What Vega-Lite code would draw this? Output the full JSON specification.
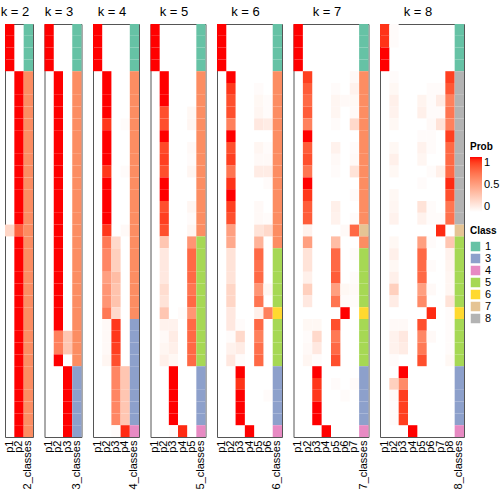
{
"$schema": "https://vega.github.io/schema/vega-lite/v6.json",
"padding": {"left": 0, "top": 5, "right": 0, "bottom": 0},
"spacing": 11.5,
"bounds": "flush",
"datasets": {
"prob": [
{"k":2,"r":1,"c":"p1","v":1},{"k":2,"r":2,"c":"p1","v":1},{"k":2,"r":3,"c":"p1","v":1},{"k":2,"r":4,"c":"p1","v":1},
{"k":2,"r":5,"c":"p2","v":1},{"k":2,"r":6,"c":"p2","v":1},{"k":2,"r":7,"c":"p2","v":1},{"k":2,"r":8,"c":"p2","v":1},{"k":2,"r":9,"c":"p2","v":1},{"k":2,"r":10,"c":"p2","v":1},{"k":2,"r":11,"c":"p2","v":1},{"k":2,"r":12,"c":"p2","v":1},{"k":2,"r":13,"c":"p2","v":1},{"k":2,"r":14,"c":"p2","v":1},{"k":2,"r":15,"c":"p2","v":1},{"k":2,"r":16,"c":"p2","v":1},{"k":2,"r":17,"c":"p2","v":1},
{"k":2,"r":18,"c":"p1","v":0.22},{"k":2,"r":18,"c":"p2","v":0.78},
{"k":2,"r":19,"c":"p2","v":1},{"k":2,"r":20,"c":"p2","v":1},{"k":2,"r":21,"c":"p2","v":1},{"k":2,"r":22,"c":"p2","v":1},{"k":2,"r":23,"c":"p2","v":1},{"k":2,"r":24,"c":"p2","v":1},{"k":2,"r":25,"c":"p2","v":1},{"k":2,"r":26,"c":"p2","v":1},{"k":2,"r":27,"c":"p2","v":1},{"k":2,"r":28,"c":"p2","v":1},{"k":2,"r":29,"c":"p2","v":1},{"k":2,"r":30,"c":"p2","v":1},{"k":2,"r":31,"c":"p2","v":1},{"k":2,"r":32,"c":"p2","v":1},{"k":2,"r":33,"c":"p2","v":1},{"k":2,"r":34,"c":"p2","v":1},{"k":2,"r":35,"c":"p2","v":1},

{"k":3,"r":1,"c":"p1","v":1},{"k":3,"r":2,"c":"p1","v":1},{"k":3,"r":3,"c":"p1","v":1},{"k":3,"r":4,"c":"p1","v":1},
{"k":3,"r":5,"c":"p2","v":1},{"k":3,"r":6,"c":"p2","v":1},{"k":3,"r":7,"c":"p2","v":1},{"k":3,"r":8,"c":"p2","v":1},{"k":3,"r":9,"c":"p2","v":1},{"k":3,"r":10,"c":"p2","v":1},{"k":3,"r":11,"c":"p2","v":1},{"k":3,"r":12,"c":"p2","v":1},{"k":3,"r":13,"c":"p2","v":1},{"k":3,"r":14,"c":"p2","v":1},{"k":3,"r":15,"c":"p2","v":1},{"k":3,"r":16,"c":"p2","v":1},{"k":3,"r":17,"c":"p2","v":1},{"k":3,"r":18,"c":"p2","v":1},{"k":3,"r":19,"c":"p2","v":1},{"k":3,"r":20,"c":"p2","v":1},{"k":3,"r":21,"c":"p2","v":1},{"k":3,"r":22,"c":"p2","v":1},{"k":3,"r":23,"c":"p2","v":1},{"k":3,"r":24,"c":"p2","v":1},{"k":3,"r":25,"c":"p2","v":1},{"k":3,"r":26,"c":"p2","v":1},
{"k":3,"r":27,"c":"p2","v":0.65},{"k":3,"r":27,"c":"p3","v":0.3},{"k":3,"r":28,"c":"p2","v":0.65},{"k":3,"r":28,"c":"p3","v":0.3},
{"k":3,"r":29,"c":"p2","v":1},
{"k":3,"r":30,"c":"p3","v":1},{"k":3,"r":31,"c":"p3","v":1},{"k":3,"r":32,"c":"p3","v":1},{"k":3,"r":33,"c":"p3","v":1},{"k":3,"r":34,"c":"p3","v":1},{"k":3,"r":35,"c":"p3","v":1},

{"k":4,"r":1,"c":"p1","v":1},{"k":4,"r":2,"c":"p1","v":1},{"k":4,"r":3,"c":"p1","v":1},{"k":4,"r":4,"c":"p1","v":1},
{"k":4,"r":5,"c":"p2","v":1},{"k":4,"r":6,"c":"p2","v":1},{"k":4,"r":7,"c":"p2","v":1},{"k":4,"r":8,"c":"p2","v":1},
{"k":4,"r":9,"c":"p2","v":0.92},{"k":4,"r":9,"c":"p4","v":0.02},
{"k":4,"r":10,"c":"p2","v":1},{"k":4,"r":11,"c":"p2","v":1},{"k":4,"r":12,"c":"p2","v":1},
{"k":4,"r":13,"c":"p2","v":0.92},{"k":4,"r":13,"c":"p4","v":0.02},
{"k":4,"r":14,"c":"p2","v":1},{"k":4,"r":15,"c":"p2","v":1},{"k":4,"r":16,"c":"p2","v":1},{"k":4,"r":17,"c":"p2","v":1},
{"k":4,"r":18,"c":"p2","v":0.92},{"k":4,"r":18,"c":"p4","v":0.03},
{"k":4,"r":19,"c":"p2","v":0.68},{"k":4,"r":19,"c":"p3","v":0.2},
{"k":4,"r":20,"c":"p2","v":0.62},{"k":4,"r":20,"c":"p3","v":0.25},
{"k":4,"r":21,"c":"p2","v":0.62},{"k":4,"r":21,"c":"p3","v":0.25},
{"k":4,"r":22,"c":"p2","v":0.5},{"k":4,"r":22,"c":"p3","v":0.35},
{"k":4,"r":23,"c":"p2","v":0.55},{"k":4,"r":23,"c":"p3","v":0.32},
{"k":4,"r":24,"c":"p2","v":0.55},{"k":4,"r":24,"c":"p3","v":0.32},
{"k":4,"r":25,"c":"p2","v":0.68},{"k":4,"r":25,"c":"p3","v":0.2},
{"k":4,"r":26,"c":"p2","v":0.03},{"k":4,"r":26,"c":"p3","v":0.92},
{"k":4,"r":27,"c":"p2","v":0.03},{"k":4,"r":27,"c":"p3","v":0.92},
{"k":4,"r":28,"c":"p2","v":0.03},{"k":4,"r":28,"c":"p3","v":0.9},
{"k":4,"r":29,"c":"p2","v":0.05},{"k":4,"r":29,"c":"p3","v":0.85},
{"k":4,"r":30,"c":"p3","v":0.62},{"k":4,"r":30,"c":"p4","v":0.3},
{"k":4,"r":31,"c":"p3","v":0.62},{"k":4,"r":31,"c":"p4","v":0.3},
{"k":4,"r":32,"c":"p3","v":0.62},{"k":4,"r":32,"c":"p4","v":0.3},
{"k":4,"r":33,"c":"p3","v":0.62},{"k":4,"r":33,"c":"p4","v":0.3},
{"k":4,"r":34,"c":"p3","v":0.62},{"k":4,"r":34,"c":"p4","v":0.3},
{"k":4,"r":35,"c":"p3","v":0.02},{"k":4,"r":35,"c":"p4","v":0.95},

{"k":5,"r":1,"c":"p1","v":1},{"k":5,"r":2,"c":"p1","v":1},{"k":5,"r":3,"c":"p1","v":1},{"k":5,"r":4,"c":"p1","v":1},
{"k":5,"r":5,"c":"p2","v":1},{"k":5,"r":6,"c":"p2","v":1},{"k":5,"r":7,"c":"p2","v":1},
{"k":5,"r":8,"c":"p2","v":0.85},{"k":5,"r":8,"c":"p5","v":0.04},
{"k":5,"r":9,"c":"p2","v":0.85},{"k":5,"r":9,"c":"p5","v":0.05},
{"k":5,"r":10,"c":"p2","v":1},
{"k":5,"r":11,"c":"p2","v":0.87},{"k":5,"r":11,"c":"p5","v":0.03},
{"k":5,"r":12,"c":"p2","v":0.9},{"k":5,"r":12,"c":"p5","v":0.02},
{"k":5,"r":13,"c":"p2","v":0.85},{"k":5,"r":13,"c":"p5","v":0.05},
{"k":5,"r":14,"c":"p2","v":1},{"k":5,"r":15,"c":"p2","v":1},
{"k":5,"r":16,"c":"p2","v":0.85},{"k":5,"r":16,"c":"p5","v":0.05},
{"k":5,"r":17,"c":"p2","v":0.9},{"k":5,"r":17,"c":"p5","v":0.02},
{"k":5,"r":18,"c":"p2","v":0.85},{"k":5,"r":18,"c":"p5","v":0.05},
{"k":5,"r":19,"c":"p2","v":0.3},{"k":5,"r":19,"c":"p5","v":0.55},
{"k":5,"r":20,"c":"p2","v":0.12},{"k":5,"r":20,"c":"p5","v":0.75},
{"k":5,"r":21,"c":"p2","v":0.12},{"k":5,"r":21,"c":"p5","v":0.75},
{"k":5,"r":22,"c":"p2","v":0.12},{"k":5,"r":22,"c":"p5","v":0.75},
{"k":5,"r":23,"c":"p2","v":0.18},{"k":5,"r":23,"c":"p5","v":0.7},
{"k":5,"r":24,"c":"p2","v":0.15},{"k":5,"r":24,"c":"p5","v":0.75},
{"k":5,"r":25,"c":"p2","v":0.3},{"k":5,"r":25,"c":"p4","v":0.02},{"k":5,"r":25,"c":"p5","v":0.55},
{"k":5,"r":26,"c":"p2","v":0.07},{"k":5,"r":26,"c":"p3","v":0.07},{"k":5,"r":26,"c":"p5","v":0.75},
{"k":5,"r":27,"c":"p2","v":0.03},{"k":5,"r":27,"c":"p3","v":0.1},{"k":5,"r":27,"c":"p5","v":0.75},
{"k":5,"r":28,"c":"p2","v":0.05},{"k":5,"r":28,"c":"p3","v":0.08},{"k":5,"r":28,"c":"p5","v":0.75},
{"k":5,"r":29,"c":"p2","v":0.08},{"k":5,"r":29,"c":"p3","v":0.04},{"k":5,"r":29,"c":"p5","v":0.75},
{"k":5,"r":30,"c":"p3","v":1},{"k":5,"r":31,"c":"p3","v":1},{"k":5,"r":32,"c":"p3","v":1},{"k":5,"r":33,"c":"p3","v":1},{"k":5,"r":34,"c":"p3","v":1},
{"k":5,"r":35,"c":"p3","v":0.02},{"k":5,"r":35,"c":"p4","v":0.95},

{"k":6,"r":1,"c":"p1","v":1},{"k":6,"r":2,"c":"p1","v":1},{"k":6,"r":3,"c":"p1","v":1},{"k":6,"r":4,"c":"p1","v":1},
{"k":6,"r":5,"c":"p2","v":1},
{"k":6,"r":6,"c":"p2","v":0.92},{"k":6,"r":6,"c":"p5","v":0.02},
{"k":6,"r":7,"c":"p2","v":0.85},{"k":6,"r":7,"c":"p5","v":0.04},{"k":6,"r":7,"c":"p6","v":0.02},
{"k":6,"r":8,"c":"p2","v":0.85},{"k":6,"r":8,"c":"p5","v":0.05},{"k":6,"r":8,"c":"p6","v":0.02},
{"k":6,"r":9,"c":"p2","v":0.65},{"k":6,"r":9,"c":"p5","v":0.12},{"k":6,"r":9,"c":"p6","v":0.1},
{"k":6,"r":10,"c":"p2","v":1},
{"k":6,"r":11,"c":"p2","v":0.85},{"k":6,"r":11,"c":"p5","v":0.05},{"k":6,"r":11,"c":"p6","v":0.02},
{"k":6,"r":12,"c":"p2","v":0.9},{"k":6,"r":12,"c":"p5","v":0.03},{"k":6,"r":12,"c":"p6","v":0.03},
{"k":6,"r":13,"c":"p2","v":0.7},{"k":6,"r":13,"c":"p5","v":0.1},{"k":6,"r":13,"c":"p6","v":0.1},
{"k":6,"r":14,"c":"p2","v":0.93},{"k":6,"r":14,"c":"p6","v":0.02},
{"k":6,"r":15,"c":"p2","v":1},
{"k":6,"r":16,"c":"p2","v":0.9},{"k":6,"r":16,"c":"p5","v":0.03},
{"k":6,"r":17,"c":"p2","v":0.85},{"k":6,"r":17,"c":"p5","v":0.03},{"k":6,"r":17,"c":"p6","v":0.02},
{"k":6,"r":18,"c":"p2","v":0.5},{"k":6,"r":18,"c":"p5","v":0.15},{"k":6,"r":18,"c":"p6","v":0.2},
{"k":6,"r":19,"c":"p2","v":0.45},{"k":6,"r":19,"c":"p5","v":0.4},
{"k":6,"r":20,"c":"p2","v":0.15},{"k":6,"r":20,"c":"p5","v":0.75},
{"k":6,"r":21,"c":"p2","v":0.15},{"k":6,"r":21,"c":"p5","v":0.72},
{"k":6,"r":22,"c":"p2","v":0.15},{"k":6,"r":22,"c":"p5","v":0.75},
{"k":6,"r":23,"c":"p2","v":0.22},{"k":6,"r":23,"c":"p5","v":0.55},{"k":6,"r":23,"c":"p6","v":0.05},
{"k":6,"r":24,"c":"p2","v":0.22},{"k":6,"r":24,"c":"p5","v":0.7},
{"k":6,"r":25,"c":"p2","v":0.12},{"k":6,"r":25,"c":"p5","v":0.08},{"k":6,"r":25,"c":"p6","v":0.65},
{"k":6,"r":26,"c":"p2","v":0.12},{"k":6,"r":26,"c":"p3","v":0.02},{"k":6,"r":26,"c":"p5","v":0.75},
{"k":6,"r":27,"c":"p2","v":0.02},{"k":6,"r":27,"c":"p3","v":0.2},{"k":6,"r":27,"c":"p5","v":0.65},
{"k":6,"r":28,"c":"p2","v":0.07},{"k":6,"r":28,"c":"p3","v":0.1},{"k":6,"r":28,"c":"p5","v":0.72},
{"k":6,"r":29,"c":"p2","v":0.12},{"k":6,"r":29,"c":"p3","v":0.02},{"k":6,"r":29,"c":"p5","v":0.75},
{"k":6,"r":30,"c":"p3","v":1},
{"k":6,"r":31,"c":"p3","v":0.93},
{"k":6,"r":32,"c":"p3","v":1},{"k":6,"r":32,"c":"p6","v":0.02},
{"k":6,"r":33,"c":"p3","v":1},{"k":6,"r":34,"c":"p3","v":1},
{"k":6,"r":35,"c":"p4","v":1},

{"k":7,"r":1,"c":"p1","v":1},{"k":7,"r":2,"c":"p1","v":1},{"k":7,"r":3,"c":"p1","v":1},{"k":7,"r":4,"c":"p1","v":1},
{"k":7,"r":5,"c":"p2","v":0.9},{"k":7,"r":5,"c":"p7","v":0.03},
{"k":7,"r":6,"c":"p2","v":0.8},{"k":7,"r":6,"c":"p5","v":0.02},{"k":7,"r":6,"c":"p7","v":0.07},
{"k":7,"r":7,"c":"p2","v":0.75},{"k":7,"r":7,"c":"p5","v":0.05},{"k":7,"r":7,"c":"p6","v":0.03},{"k":7,"r":7,"c":"p7","v":0.04},
{"k":7,"r":8,"c":"p2","v":0.8},{"k":7,"r":8,"c":"p5","v":0.05},{"k":7,"r":8,"c":"p7","v":0.03},
{"k":7,"r":9,"c":"p2","v":0.65},{"k":7,"r":9,"c":"p5","v":0.02},{"k":7,"r":9,"c":"p7","v":0.2},
{"k":7,"r":10,"c":"p2","v":1},
{"k":7,"r":11,"c":"p2","v":0.8},{"k":7,"r":11,"c":"p5","v":0.07},{"k":7,"r":11,"c":"p7","v":0.02},
{"k":7,"r":12,"c":"p2","v":0.85},{"k":7,"r":12,"c":"p5","v":0.03},{"k":7,"r":12,"c":"p7","v":0.03},
{"k":7,"r":13,"c":"p2","v":0.7},{"k":7,"r":13,"c":"p5","v":0.02},{"k":7,"r":13,"c":"p7","v":0.15},
{"k":7,"r":14,"c":"p2","v":1},
{"k":7,"r":15,"c":"p2","v":0.92},{"k":7,"r":15,"c":"p7","v":0.02},
{"k":7,"r":16,"c":"p2","v":0.8},{"k":7,"r":16,"c":"p5","v":0.08},
{"k":7,"r":17,"c":"p2","v":0.8},{"k":7,"r":17,"c":"p5","v":0.07},{"k":7,"r":17,"c":"p7","v":0.02},
{"k":7,"r":18,"c":"p2","v":0.07},{"k":7,"r":18,"c":"p6","v":0.03},{"k":7,"r":18,"c":"p7","v":0.75},
{"k":7,"r":19,"c":"p2","v":0.5},{"k":7,"r":19,"c":"p5","v":0.35},
{"k":7,"r":20,"c":"p2","v":0.15},{"k":7,"r":20,"c":"p5","v":0.75},{"k":7,"r":20,"c":"p7","v":0.02},
{"k":7,"r":21,"c":"p2","v":0.15},{"k":7,"r":21,"c":"p5","v":0.75},
{"k":7,"r":22,"c":"p2","v":0.08},{"k":7,"r":22,"c":"p5","v":0.8},{"k":7,"r":22,"c":"p7","v":0.02},
{"k":7,"r":23,"c":"p2","v":0.25},{"k":7,"r":23,"c":"p5","v":0.5},{"k":7,"r":23,"c":"p6","v":0.04},{"k":7,"r":23,"c":"p7","v":0.03},
{"k":7,"r":24,"c":"p2","v":0.12},{"k":7,"r":24,"c":"p5","v":0.7},{"k":7,"r":24,"c":"p6","v":0.02},{"k":7,"r":24,"c":"p7","v":0.02},
{"k":7,"r":25,"c":"p6","v":1},
{"k":7,"r":26,"c":"p2","v":0.04},{"k":7,"r":26,"c":"p3","v":0.04},{"k":7,"r":26,"c":"p5","v":0.85},
{"k":7,"r":27,"c":"p2","v":0.02},{"k":7,"r":27,"c":"p3","v":0.2},{"k":7,"r":27,"c":"p5","v":0.68},
{"k":7,"r":28,"c":"p2","v":0.03},{"k":7,"r":28,"c":"p3","v":0.12},{"k":7,"r":28,"c":"p5","v":0.75},
{"k":7,"r":29,"c":"p2","v":0.05},{"k":7,"r":29,"c":"p3","v":0.02},{"k":7,"r":29,"c":"p5","v":0.85},
{"k":7,"r":30,"c":"p3","v":1},
{"k":7,"r":31,"c":"p3","v":0.92},{"k":7,"r":31,"c":"p5","v":0.02},{"k":7,"r":31,"c":"p7","v":0.02},
{"k":7,"r":32,"c":"p3","v":0.92},{"k":7,"r":32,"c":"p6","v":0.02},
{"k":7,"r":33,"c":"p3","v":1},{"k":7,"r":34,"c":"p3","v":1},
{"k":7,"r":35,"c":"p4","v":1},

{"k":8,"r":1,"c":"p1","v":0.93},{"k":8,"r":1,"c":"p2","v":0.02},{"k":8,"r":2,"c":"p1","v":0.93},{"k":8,"r":2,"c":"p2","v":0.02},{"k":8,"r":3,"c":"p1","v":1},{"k":8,"r":4,"c":"p1","v":1},
{"k":8,"r":5,"c":"p2","v":0.02},{"k":8,"r":5,"c":"p8","v":0.9},
{"k":8,"r":6,"c":"p2","v":0.04},{"k":8,"r":6,"c":"p6","v":0.02},{"k":8,"r":6,"c":"p7","v":0.02},{"k":8,"r":6,"c":"p8","v":0.82},
{"k":8,"r":7,"c":"p2","v":0.08},{"k":8,"r":7,"c":"p5","v":0.06},{"k":8,"r":7,"c":"p6","v":0.02},{"k":8,"r":7,"c":"p7","v":0.1},{"k":8,"r":7,"c":"p8","v":0.65},
{"k":8,"r":8,"c":"p2","v":0.07},{"k":8,"r":8,"c":"p5","v":0.08},{"k":8,"r":8,"c":"p6","v":0.02},{"k":8,"r":8,"c":"p7","v":0.02},{"k":8,"r":8,"c":"p8","v":0.7},
{"k":8,"r":9,"c":"p2","v":0.04},{"k":8,"r":9,"c":"p6","v":0.03},{"k":8,"r":9,"c":"p7","v":0.15},{"k":8,"r":9,"c":"p8","v":0.65},
{"k":8,"r":10,"c":"p5","v":0.02},{"k":8,"r":10,"c":"p6","v":0.02},{"k":8,"r":10,"c":"p8","v":0.9},
{"k":8,"r":11,"c":"p2","v":0.04},{"k":8,"r":11,"c":"p5","v":0.07},{"k":8,"r":11,"c":"p6","v":0.02},{"k":8,"r":11,"c":"p8","v":0.75},
{"k":8,"r":12,"c":"p2","v":0.08},{"k":8,"r":12,"c":"p5","v":0.05},{"k":8,"r":12,"c":"p8","v":0.75},
{"k":8,"r":13,"c":"p2","v":0.04},{"k":8,"r":13,"c":"p6","v":0.02},{"k":8,"r":13,"c":"p7","v":0.08},{"k":8,"r":13,"c":"p8","v":0.75},
{"k":8,"r":14,"c":"p5","v":0.02},{"k":8,"r":14,"c":"p8","v":0.95},
{"k":8,"r":15,"c":"p2","v":0.04},{"k":8,"r":15,"c":"p8","v":0.85},
{"k":8,"r":16,"c":"p2","v":0.05},{"k":8,"r":16,"c":"p5","v":0.15},{"k":8,"r":16,"c":"p6","v":0.02},{"k":8,"r":16,"c":"p8","v":0.7},
{"k":8,"r":17,"c":"p2","v":0.07},{"k":8,"r":17,"c":"p5","v":0.07},{"k":8,"r":17,"c":"p6","v":0.02},{"k":8,"r":17,"c":"p7","v":0.02},{"k":8,"r":17,"c":"p8","v":0.72},
{"k":8,"r":18,"c":"p7","v":0.95},
{"k":8,"r":19,"c":"p2","v":0.04},{"k":8,"r":19,"c":"p5","v":0.5},{"k":8,"r":19,"c":"p6","v":0.02},{"k":8,"r":19,"c":"p8","v":0.3},
{"k":8,"r":20,"c":"p2","v":0.08},{"k":8,"r":20,"c":"p5","v":0.75},{"k":8,"r":20,"c":"p8","v":0.07},
{"k":8,"r":21,"c":"p2","v":0.04},{"k":8,"r":21,"c":"p5","v":0.75},{"k":8,"r":21,"c":"p6","v":0.02},{"k":8,"r":21,"c":"p8","v":0.06},
{"k":8,"r":22,"c":"p2","v":0.08},{"k":8,"r":22,"c":"p5","v":0.75},{"k":8,"r":22,"c":"p8","v":0.05},
{"k":8,"r":23,"c":"p2","v":0.25},{"k":8,"r":23,"c":"p5","v":0.5},{"k":8,"r":23,"c":"p6","v":0.03},{"k":8,"r":23,"c":"p8","v":0.05},
{"k":8,"r":24,"c":"p2","v":0.1},{"k":8,"r":24,"c":"p5","v":0.6},{"k":8,"r":24,"c":"p8","v":0.15},
{"k":8,"r":25,"c":"p6","v":0.95},{"k":8,"r":25,"c":"p8","v":0.02},
{"k":8,"r":26,"c":"p2","v":0.03},{"k":8,"r":26,"c":"p3","v":0.03},{"k":8,"r":26,"c":"p5","v":0.85},{"k":8,"r":26,"c":"p8","v":0.02},
{"k":8,"r":27,"c":"p2","v":0.07},{"k":8,"r":27,"c":"p3","v":0.12},{"k":8,"r":27,"c":"p5","v":0.62},{"k":8,"r":27,"c":"p6","v":0.03},{"k":8,"r":27,"c":"p8","v":0.02},
{"k":8,"r":28,"c":"p2","v":0.07},{"k":8,"r":28,"c":"p3","v":0.1},{"k":8,"r":28,"c":"p5","v":0.68},{"k":8,"r":28,"c":"p8","v":0.02},
{"k":8,"r":29,"c":"p2","v":0.02},{"k":8,"r":29,"c":"p5","v":0.85},{"k":8,"r":29,"c":"p8","v":0.04},
{"k":8,"r":30,"c":"p3","v":1},
{"k":8,"r":31,"c":"p2","v":0.25},{"k":8,"r":31,"c":"p3","v":0.6},
{"k":8,"r":32,"c":"p2","v":0.03},{"k":8,"r":32,"c":"p3","v":0.9},
{"k":8,"r":33,"c":"p2","v":0.02},{"k":8,"r":33,"c":"p3","v":0.9},
{"k":8,"r":34,"c":"p2","v":0.02},{"k":8,"r":34,"c":"p3","v":0.9},
{"k":8,"r":35,"c":"p4","v":1}
],
"cls": [
{"k":2,"r":1,"cls":1},{"k":2,"r":2,"cls":1},{"k":2,"r":3,"cls":1},{"k":2,"r":4,"cls":1},{"k":2,"r":5,"cls":2},{"k":2,"r":6,"cls":2},{"k":2,"r":7,"cls":2},{"k":2,"r":8,"cls":2},{"k":2,"r":9,"cls":2},{"k":2,"r":10,"cls":2},{"k":2,"r":11,"cls":2},{"k":2,"r":12,"cls":2},{"k":2,"r":13,"cls":2},{"k":2,"r":14,"cls":2},{"k":2,"r":15,"cls":2},{"k":2,"r":16,"cls":2},{"k":2,"r":17,"cls":2},{"k":2,"r":18,"cls":2},{"k":2,"r":19,"cls":2},{"k":2,"r":20,"cls":2},{"k":2,"r":21,"cls":2},{"k":2,"r":22,"cls":2},{"k":2,"r":23,"cls":2},{"k":2,"r":24,"cls":2},{"k":2,"r":25,"cls":2},{"k":2,"r":26,"cls":2},{"k":2,"r":27,"cls":2},{"k":2,"r":28,"cls":2},{"k":2,"r":29,"cls":2},{"k":2,"r":30,"cls":2},{"k":2,"r":31,"cls":2},{"k":2,"r":32,"cls":2},{"k":2,"r":33,"cls":2},{"k":2,"r":34,"cls":2},{"k":2,"r":35,"cls":2},
{"k":3,"r":1,"cls":1},{"k":3,"r":2,"cls":1},{"k":3,"r":3,"cls":1},{"k":3,"r":4,"cls":1},{"k":3,"r":5,"cls":2},{"k":3,"r":6,"cls":2},{"k":3,"r":7,"cls":2},{"k":3,"r":8,"cls":2},{"k":3,"r":9,"cls":2},{"k":3,"r":10,"cls":2},{"k":3,"r":11,"cls":2},{"k":3,"r":12,"cls":2},{"k":3,"r":13,"cls":2},{"k":3,"r":14,"cls":2},{"k":3,"r":15,"cls":2},{"k":3,"r":16,"cls":2},{"k":3,"r":17,"cls":2},{"k":3,"r":18,"cls":2},{"k":3,"r":19,"cls":2},{"k":3,"r":20,"cls":2},{"k":3,"r":21,"cls":2},{"k":3,"r":22,"cls":2},{"k":3,"r":23,"cls":2},{"k":3,"r":24,"cls":2},{"k":3,"r":25,"cls":2},{"k":3,"r":26,"cls":2},{"k":3,"r":27,"cls":2},{"k":3,"r":28,"cls":2},{"k":3,"r":29,"cls":2},{"k":3,"r":30,"cls":3},{"k":3,"r":31,"cls":3},{"k":3,"r":32,"cls":3},{"k":3,"r":33,"cls":3},{"k":3,"r":34,"cls":3},{"k":3,"r":35,"cls":3},
{"k":4,"r":1,"cls":1},{"k":4,"r":2,"cls":1},{"k":4,"r":3,"cls":1},{"k":4,"r":4,"cls":1},{"k":4,"r":5,"cls":2},{"k":4,"r":6,"cls":2},{"k":4,"r":7,"cls":2},{"k":4,"r":8,"cls":2},{"k":4,"r":9,"cls":2},{"k":4,"r":10,"cls":2},{"k":4,"r":11,"cls":2},{"k":4,"r":12,"cls":2},{"k":4,"r":13,"cls":2},{"k":4,"r":14,"cls":2},{"k":4,"r":15,"cls":2},{"k":4,"r":16,"cls":2},{"k":4,"r":17,"cls":2},{"k":4,"r":18,"cls":2},{"k":4,"r":19,"cls":2},{"k":4,"r":20,"cls":2},{"k":4,"r":21,"cls":2},{"k":4,"r":22,"cls":2},{"k":4,"r":23,"cls":2},{"k":4,"r":24,"cls":2},{"k":4,"r":25,"cls":2},{"k":4,"r":26,"cls":3},{"k":4,"r":27,"cls":3},{"k":4,"r":28,"cls":3},{"k":4,"r":29,"cls":3},{"k":4,"r":30,"cls":3},{"k":4,"r":31,"cls":3},{"k":4,"r":32,"cls":3},{"k":4,"r":33,"cls":3},{"k":4,"r":34,"cls":3},{"k":4,"r":35,"cls":4},
{"k":5,"r":1,"cls":1},{"k":5,"r":2,"cls":1},{"k":5,"r":3,"cls":1},{"k":5,"r":4,"cls":1},{"k":5,"r":5,"cls":2},{"k":5,"r":6,"cls":2},{"k":5,"r":7,"cls":2},{"k":5,"r":8,"cls":2},{"k":5,"r":9,"cls":2},{"k":5,"r":10,"cls":2},{"k":5,"r":11,"cls":2},{"k":5,"r":12,"cls":2},{"k":5,"r":13,"cls":2},{"k":5,"r":14,"cls":2},{"k":5,"r":15,"cls":2},{"k":5,"r":16,"cls":2},{"k":5,"r":17,"cls":2},{"k":5,"r":18,"cls":2},{"k":5,"r":19,"cls":5},{"k":5,"r":20,"cls":5},{"k":5,"r":21,"cls":5},{"k":5,"r":22,"cls":5},{"k":5,"r":23,"cls":5},{"k":5,"r":24,"cls":5},{"k":5,"r":25,"cls":5},{"k":5,"r":26,"cls":5},{"k":5,"r":27,"cls":5},{"k":5,"r":28,"cls":5},{"k":5,"r":29,"cls":5},{"k":5,"r":30,"cls":3},{"k":5,"r":31,"cls":3},{"k":5,"r":32,"cls":3},{"k":5,"r":33,"cls":3},{"k":5,"r":34,"cls":3},{"k":5,"r":35,"cls":4},
{"k":6,"r":1,"cls":1},{"k":6,"r":2,"cls":1},{"k":6,"r":3,"cls":1},{"k":6,"r":4,"cls":1},{"k":6,"r":5,"cls":2},{"k":6,"r":6,"cls":2},{"k":6,"r":7,"cls":2},{"k":6,"r":8,"cls":2},{"k":6,"r":9,"cls":2},{"k":6,"r":10,"cls":2},{"k":6,"r":11,"cls":2},{"k":6,"r":12,"cls":2},{"k":6,"r":13,"cls":2},{"k":6,"r":14,"cls":2},{"k":6,"r":15,"cls":2},{"k":6,"r":16,"cls":2},{"k":6,"r":17,"cls":2},{"k":6,"r":18,"cls":2},{"k":6,"r":19,"cls":2},{"k":6,"r":20,"cls":5},{"k":6,"r":21,"cls":5},{"k":6,"r":22,"cls":5},{"k":6,"r":23,"cls":5},{"k":6,"r":24,"cls":5},{"k":6,"r":25,"cls":6},{"k":6,"r":26,"cls":5},{"k":6,"r":27,"cls":5},{"k":6,"r":28,"cls":5},{"k":6,"r":29,"cls":5},{"k":6,"r":30,"cls":3},{"k":6,"r":31,"cls":3},{"k":6,"r":32,"cls":3},{"k":6,"r":33,"cls":3},{"k":6,"r":34,"cls":3},{"k":6,"r":35,"cls":4},
{"k":7,"r":1,"cls":1},{"k":7,"r":2,"cls":1},{"k":7,"r":3,"cls":1},{"k":7,"r":4,"cls":1},{"k":7,"r":5,"cls":2},{"k":7,"r":6,"cls":2},{"k":7,"r":7,"cls":2},{"k":7,"r":8,"cls":2},{"k":7,"r":9,"cls":2},{"k":7,"r":10,"cls":2},{"k":7,"r":11,"cls":2},{"k":7,"r":12,"cls":2},{"k":7,"r":13,"cls":2},{"k":7,"r":14,"cls":2},{"k":7,"r":15,"cls":2},{"k":7,"r":16,"cls":2},{"k":7,"r":17,"cls":2},{"k":7,"r":18,"cls":7},{"k":7,"r":19,"cls":2},{"k":7,"r":20,"cls":5},{"k":7,"r":21,"cls":5},{"k":7,"r":22,"cls":5},{"k":7,"r":23,"cls":5},{"k":7,"r":24,"cls":5},{"k":7,"r":25,"cls":6},{"k":7,"r":26,"cls":5},{"k":7,"r":27,"cls":5},{"k":7,"r":28,"cls":5},{"k":7,"r":29,"cls":5},{"k":7,"r":30,"cls":3},{"k":7,"r":31,"cls":3},{"k":7,"r":32,"cls":3},{"k":7,"r":33,"cls":3},{"k":7,"r":34,"cls":3},{"k":7,"r":35,"cls":4},
{"k":8,"r":1,"cls":1},{"k":8,"r":2,"cls":1},{"k":8,"r":3,"cls":1},{"k":8,"r":4,"cls":1},{"k":8,"r":5,"cls":8},{"k":8,"r":6,"cls":8},{"k":8,"r":7,"cls":8},{"k":8,"r":8,"cls":8},{"k":8,"r":9,"cls":8},{"k":8,"r":10,"cls":8},{"k":8,"r":11,"cls":8},{"k":8,"r":12,"cls":8},{"k":8,"r":13,"cls":8},{"k":8,"r":14,"cls":8},{"k":8,"r":15,"cls":8},{"k":8,"r":16,"cls":8},{"k":8,"r":17,"cls":8},{"k":8,"r":18,"cls":7},{"k":8,"r":19,"cls":5},{"k":8,"r":20,"cls":5},{"k":8,"r":21,"cls":5},{"k":8,"r":22,"cls":5},{"k":8,"r":23,"cls":5},{"k":8,"r":24,"cls":5},{"k":8,"r":25,"cls":6},{"k":8,"r":26,"cls":5},{"k":8,"r":27,"cls":5},{"k":8,"r":28,"cls":5},{"k":8,"r":29,"cls":5},{"k":8,"r":30,"cls":3},{"k":8,"r":31,"cls":3},{"k":8,"r":32,"cls":3},{"k":8,"r":33,"cls":3},{"k":8,"r":34,"cls":3},{"k":8,"r":35,"cls":4}
]
},
"resolve": {"scale": {"x": "independent", "y": "independent", "fill": "shared", "color": "shared"}},
"hconcat": [
{"width": 28, "height": 413, "title": "k = 2", "layer": [
 {"data": {"name": "prob"}, "transform": [{"filter": "datum.k == 2"}], "mark": "rect",
  "encoding": {"x": {"field": "c", "type": "nominal", "scale": {"domain": ["p1","p2","2_classes"]}, "axis": {"title": null}},
   "y": {"field": "r", "type": "ordinal", "scale": {"domain": [1,2,3,4,5,6,7,8,9,10,11,12,13,14,15,16,17,18,19,20,21,22,23,24,25,26,27,28,29,30,31,32,33,34,35]}, "axis": null},
   "fill": {"field": "v", "type": "quantitative", "title": "Prob", "scale": {"domain": [0,1], "range": ["#ffffff","#ff0000"], "interpolate": "lab"}, "legend": {"values": [0,0.5,1], "format": "~g", "orient": "none", "legendX": 465, "legendY": 118, "gradientLength": 55, "gradientThickness": 12}}}},
 {"data": {"name": "cls"}, "transform": [{"filter": "datum.k == 2"}], "mark": "rect",
  "encoding": {"x": {"datum": "2_classes", "type": "nominal", "axis": {"title": null}},
   "y": {"field": "r", "type": "ordinal", "axis": null},
   "color": {"field": "cls", "type": "nominal", "title": "Class", "scale": {"domain": [1,2,3,4,5,6,7,8], "range": ["#66C2A5","#FC8D62","#8DA0CB","#E78AC3","#A6D854","#FFD92F","#E5C494","#B3B3B3"]}, "legend": {"values": [1,3,4,5,6,7,8], "orient": "none", "legendX": 465, "legendY": 202, "symbolType": "square", "symbolSize": 90, "symbolStrokeWidth": 0, "rowPadding": 0}}}}
]},
{"width": 37, "height": 413, "title": "k = 3", "layer": [
 {"data": {"name": "prob"}, "transform": [{"filter": "datum.k == 3"}], "mark": "rect",
  "encoding": {"x": {"field": "c", "type": "nominal", "scale": {"domain": ["p1","p2","p3","3_classes"]}, "axis": {"title": null}},
   "y": {"field": "r", "type": "ordinal", "scale": {"domain": [1,2,3,4,5,6,7,8,9,10,11,12,13,14,15,16,17,18,19,20,21,22,23,24,25,26,27,28,29,30,31,32,33,34,35]}, "axis": null},
   "fill": {"field": "v", "type": "quantitative", "title": "Prob", "scale": {"domain": [0,1], "range": ["#ffffff","#ff0000"], "interpolate": "lab"}, "legend": {"values": [0,0.5,1], "format": "~g", "orient": "none", "legendX": 465, "legendY": 118, "gradientLength": 55, "gradientThickness": 12}}}},
 {"data": {"name": "cls"}, "transform": [{"filter": "datum.k == 3"}], "mark": "rect",
  "encoding": {"x": {"datum": "3_classes", "type": "nominal", "axis": {"title": null}},
   "y": {"field": "r", "type": "ordinal", "axis": null},
   "color": {"field": "cls", "type": "nominal", "title": "Class", "scale": {"domain": [1,2,3,4,5,6,7,8], "range": ["#66C2A5","#FC8D62","#8DA0CB","#E78AC3","#A6D854","#FFD92F","#E5C494","#B3B3B3"]}, "legend": {"values": [1,3,4,5,6,7,8], "orient": "none", "legendX": 465, "legendY": 202, "symbolType": "square", "symbolSize": 90, "symbolStrokeWidth": 0, "rowPadding": 0}}}}
]},
{"width": 46, "height": 413, "title": "k = 4", "layer": [
 {"data": {"name": "prob"}, "transform": [{"filter": "datum.k == 4"}], "mark": "rect",
  "encoding": {"x": {"field": "c", "type": "nominal", "scale": {"domain": ["p1","p2","p3","p4","4_classes"]}, "axis": {"title": null}},
   "y": {"field": "r", "type": "ordinal", "scale": {"domain": [1,2,3,4,5,6,7,8,9,10,11,12,13,14,15,16,17,18,19,20,21,22,23,24,25,26,27,28,29,30,31,32,33,34,35]}, "axis": null},
   "fill": {"field": "v", "type": "quantitative", "title": "Prob", "scale": {"domain": [0,1], "range": ["#ffffff","#ff0000"], "interpolate": "lab"}, "legend": {"values": [0,0.5,1], "format": "~g", "orient": "none", "legendX": 465, "legendY": 118, "gradientLength": 55, "gradientThickness": 12}}}},
 {"data": {"name": "cls"}, "transform": [{"filter": "datum.k == 4"}], "mark": "rect",
  "encoding": {"x": {"datum": "4_classes", "type": "nominal", "axis": {"title": null}},
   "y": {"field": "r", "type": "ordinal", "axis": null},
   "color": {"field": "cls", "type": "nominal", "title": "Class", "scale": {"domain": [1,2,3,4,5,6,7,8], "range": ["#66C2A5","#FC8D62","#8DA0CB","#E78AC3","#A6D854","#FFD92F","#E5C494","#B3B3B3"]}, "legend": {"values": [1,3,4,5,6,7,8], "orient": "none", "legendX": 465, "legendY": 202, "symbolType": "square", "symbolSize": 90, "symbolStrokeWidth": 0, "rowPadding": 0}}}}
]},
{"width": 55, "height": 413, "title": "k = 5", "layer": [
 {"data": {"name": "prob"}, "transform": [{"filter": "datum.k == 5"}], "mark": "rect",
  "encoding": {"x": {"field": "c", "type": "nominal", "scale": {"domain": ["p1","p2","p3","p4","p5","5_classes"]}, "axis": {"title": null}},
   "y": {"field": "r", "type": "ordinal", "scale": {"domain": [1,2,3,4,5,6,7,8,9,10,11,12,13,14,15,16,17,18,19,20,21,22,23,24,25,26,27,28,29,30,31,32,33,34,35]}, "axis": null},
   "fill": {"field": "v", "type": "quantitative", "title": "Prob", "scale": {"domain": [0,1], "range": ["#ffffff","#ff0000"], "interpolate": "lab"}, "legend": {"values": [0,0.5,1], "format": "~g", "orient": "none", "legendX": 465, "legendY": 118, "gradientLength": 55, "gradientThickness": 12}}}},
 {"data": {"name": "cls"}, "transform": [{"filter": "datum.k == 5"}], "mark": "rect",
  "encoding": {"x": {"datum": "5_classes", "type": "nominal", "axis": {"title": null}},
   "y": {"field": "r", "type": "ordinal", "axis": null},
   "color": {"field": "cls", "type": "nominal", "title": "Class", "scale": {"domain": [1,2,3,4,5,6,7,8], "range": ["#66C2A5","#FC8D62","#8DA0CB","#E78AC3","#A6D854","#FFD92F","#E5C494","#B3B3B3"]}, "legend": {"values": [1,3,4,5,6,7,8], "orient": "none", "legendX": 465, "legendY": 202, "symbolType": "square", "symbolSize": 90, "symbolStrokeWidth": 0, "rowPadding": 0}}}}
]},
{"width": 65, "height": 413, "title": "k = 6", "layer": [
 {"data": {"name": "prob"}, "transform": [{"filter": "datum.k == 6"}], "mark": "rect",
  "encoding": {"x": {"field": "c", "type": "nominal", "scale": {"domain": ["p1","p2","p3","p4","p5","p6","6_classes"]}, "axis": {"title": null}},
   "y": {"field": "r", "type": "ordinal", "scale": {"domain": [1,2,3,4,5,6,7,8,9,10,11,12,13,14,15,16,17,18,19,20,21,22,23,24,25,26,27,28,29,30,31,32,33,34,35]}, "axis": null},
   "fill": {"field": "v", "type": "quantitative", "title": "Prob", "scale": {"domain": [0,1], "range": ["#ffffff","#ff0000"], "interpolate": "lab"}, "legend": {"values": [0,0.5,1], "format": "~g", "orient": "none", "legendX": 465, "legendY": 118, "gradientLength": 55, "gradientThickness": 12}}}},
 {"data": {"name": "cls"}, "transform": [{"filter": "datum.k == 6"}], "mark": "rect",
  "encoding": {"x": {"datum": "6_classes", "type": "nominal", "axis": {"title": null}},
   "y": {"field": "r", "type": "ordinal", "axis": null},
   "color": {"field": "cls", "type": "nominal", "title": "Class", "scale": {"domain": [1,2,3,4,5,6,7,8], "range": ["#66C2A5","#FC8D62","#8DA0CB","#E78AC3","#A6D854","#FFD92F","#E5C494","#B3B3B3"]}, "legend": {"values": [1,3,4,5,6,7,8], "orient": "none", "legendX": 465, "legendY": 202, "symbolType": "square", "symbolSize": 90, "symbolStrokeWidth": 0, "rowPadding": 0}}}}
]},
{"width": 75, "height": 413, "title": "k = 7", "layer": [
 {"data": {"name": "prob"}, "transform": [{"filter": "datum.k == 7"}], "mark": "rect",
  "encoding": {"x": {"field": "c", "type": "nominal", "scale": {"domain": ["p1","p2","p3","p4","p5","p6","p7","7_classes"]}, "axis": {"title": null}},
   "y": {"field": "r", "type": "ordinal", "scale": {"domain": [1,2,3,4,5,6,7,8,9,10,11,12,13,14,15,16,17,18,19,20,21,22,23,24,25,26,27,28,29,30,31,32,33,34,35]}, "axis": null},
   "fill": {"field": "v", "type": "quantitative", "title": "Prob", "scale": {"domain": [0,1], "range": ["#ffffff","#ff0000"], "interpolate": "lab"}, "legend": {"values": [0,0.5,1], "format": "~g", "orient": "none", "legendX": 465, "legendY": 118, "gradientLength": 55, "gradientThickness": 12}}}},
 {"data": {"name": "cls"}, "transform": [{"filter": "datum.k == 7"}], "mark": "rect",
  "encoding": {"x": {"datum": "7_classes", "type": "nominal", "axis": {"title": null}},
   "y": {"field": "r", "type": "ordinal", "axis": null},
   "color": {"field": "cls", "type": "nominal", "title": "Class", "scale": {"domain": [1,2,3,4,5,6,7,8], "range": ["#66C2A5","#FC8D62","#8DA0CB","#E78AC3","#A6D854","#FFD92F","#E5C494","#B3B3B3"]}, "legend": {"values": [1,3,4,5,6,7,8], "orient": "none", "legendX": 465, "legendY": 202, "symbolType": "square", "symbolSize": 90, "symbolStrokeWidth": 0, "rowPadding": 0}}}}
]},
{"width": 84, "height": 413, "title": "k = 8", "layer": [
 {"data": {"name": "prob"}, "transform": [{"filter": "datum.k == 8"}], "mark": "rect",
  "encoding": {"x": {"field": "c", "type": "nominal", "scale": {"domain": ["p1","p2","p3","p4","p5","p6","p7","p8","8_classes"]}, "axis": {"title": null}},
   "y": {"field": "r", "type": "ordinal", "scale": {"domain": [1,2,3,4,5,6,7,8,9,10,11,12,13,14,15,16,17,18,19,20,21,22,23,24,25,26,27,28,29,30,31,32,33,34,35]}, "axis": null},
   "fill": {"field": "v", "type": "quantitative", "title": "Prob", "scale": {"domain": [0,1], "range": ["#ffffff","#ff0000"], "interpolate": "lab"}, "legend": {"values": [0,0.5,1], "format": "~g", "orient": "none", "legendX": 465, "legendY": 118, "gradientLength": 55, "gradientThickness": 12}}}},
 {"data": {"name": "cls"}, "transform": [{"filter": "datum.k == 8"}], "mark": "rect",
  "encoding": {"x": {"datum": "8_classes", "type": "nominal", "axis": {"title": null}},
   "y": {"field": "r", "type": "ordinal", "axis": null},
   "color": {"field": "cls", "type": "nominal", "title": "Class", "scale": {"domain": [1,2,3,4,5,6,7,8], "range": ["#66C2A5","#FC8D62","#8DA0CB","#E78AC3","#A6D854","#FFD92F","#E5C494","#B3B3B3"]}, "legend": {"values": [1,3,4,5,6,7,8], "orient": "none", "legendX": 465, "legendY": 202, "symbolType": "square", "symbolSize": 90, "symbolStrokeWidth": 0, "rowPadding": 0}}}}
]}
],
"config": {
 "font": "Liberation Sans",
 "view": {"stroke": "#555555", "strokeWidth": 1},
 "title": {"fontSize": 13, "fontWeight": "normal", "offset": 5, "dx": -4, "color": "#000000", "font": "Liberation Sans"},
 "axisX": {"labelAngle": -90, "ticks": false, "domain": false, "labelFontSize": 11, "labelFont": "Liberation Sans", "labelColor": "#000000", "labelPadding": 3, "grid": false},
 "legend": {"titleFontSize": 10, "titleFontWeight": "bold", "titleColor": "#000000", "labelFontSize": 11, "labelColor": "#000000", "titleFont": "Liberation Sans", "labelFont": "Liberation Sans"}
}
}
